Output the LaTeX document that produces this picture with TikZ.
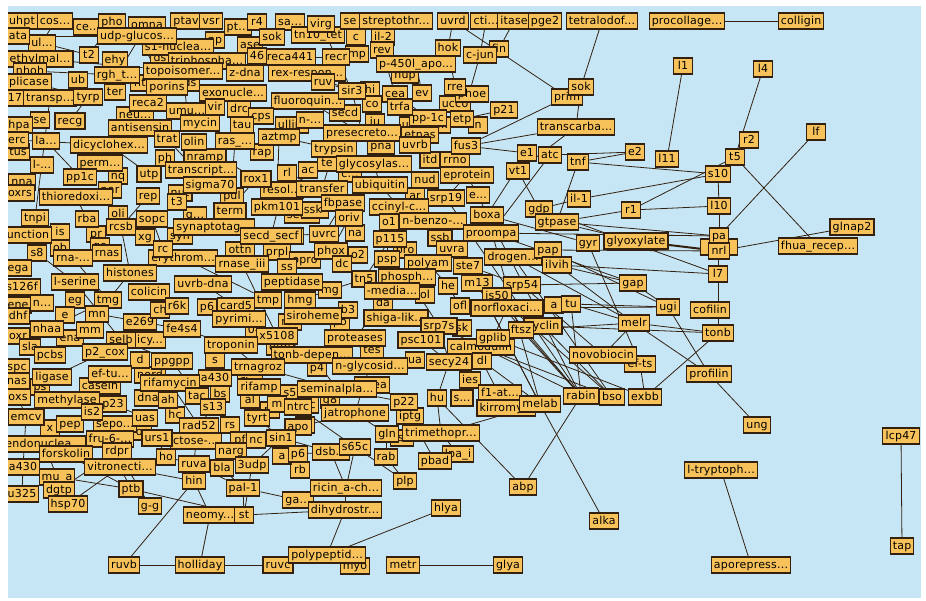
\documentclass[tikz,border=0pt]{standalone}
\usepackage{fontspec}
\newfontfamily\genefont[LetterSpace=2]{DejaVu Sans}
\definecolor{sky}{HTML}{C6E6F6}
\definecolor{gold}{HTML}{F8C25A}
\definecolor{rim}{HTML}{33200F}
\pgfdeclarelayer{backdrop}
\pgfdeclarelayer{links}
\pgfsetlayers{backdrop,links,main}
\begin{document}
\begin{tikzpicture}[x=1pt,y=-1pt,
    gene/.style={draw=rim,fill=gold,line width=1.1pt,font=\genefont\fontsize{11}{12}\selectfont,
      inner xsep=2.6pt,inner ysep=0pt,minimum height=16pt,minimum width=19pt,text height=8.5pt,text depth=2.4pt},
    link/.style={draw=rim,line width=0.8pt}]
  \begin{pgfonlayer}{backdrop}
    \fill[white] (0,0) rectangle (926,600);
    \fill[sky] (8,6) rectangle (921,598);
  \end{pgfonlayer}
  \useasboundingbox (0,0) rectangle (926,600);
  % boxes lying deep under the others
  \node [gene] (hA) at (42,165)  {l-...};
  \node [gene] (hB) at (22,182)  {nna};
  \node [gene] (hC) at (118,176) {nq};
  \node [gene] (hD) at (165,158) {ph};
  \node [gene] (hE) at (110,190) {par};
  \node [gene] (hF) at (60,232)  {is};
  \node [gene] (hG) at (96,234)  {pr};
  \node [gene] (hH) at (100,246) {ge};
  \node [gene] (hI) at (135,115) {neu...};
  \node [gene] (hJ) at (130,133) {ac};
  \node [gene] (hK) at (180,193) {nut};
  \node [gene] (hL) at (232,196) {pul};
  \node [gene] (hM) at (195,215) {g...};
  \node [gene] (hN) at (180,236) {syn};
  \node [gene] (hO) at (60,248)  {ob};
  \node [gene] (hP) at (145,237) {xg};
  \node [gene] (hQ) at (75,300)  {eg};
  \node [gene] (hR) at (65,315)  {e};
  \node [gene] (hS) at (70,338)  {ena};
  \node [gene] (hT) at (140,322) {e269};
  \node [gene] (hU) at (150,340) {icy...};
  \node [gene] (hV) at (255,330) {04};
  \node [gene] (hW) at (215,360) {s};
  \node [gene] (hX) at (150,375) {nord};
  \node [gene] (hY) at (100,386) {casein};
  \node [gene] (hZ) at (40,387)  {ps};
  \node [gene] (gA) at (50,428)  {x};
  \node [gene] (gB) at (140,432) {ros};
  \node [gene] (gC) at (230,425) {rs};
  \node [gene] (gD) at (175,415) {hc};
  \node [gene] (gE) at (270,410) {rn};
  \node [gene] (gF) at (250,400) {al};
  \node [gene] (gG) at (280,347) {ofm};
  \node [gene] (gH) at (250,380) {ri...};
  \node [gene] (gI) at (290,322) {res};
  \node [gene] (gJ) at (160,310) {ch};
  \node [gene] (gK) at (90,330)  {mm};
  \node [gene] (gL) at (292,125) {ullin-};
  \node [gene] (gM) at (282,190) {resol...};
  \node [gene] (gN) at (302,215) {sec...};
  \node [gene] (gO) at (240,250) {ottn};
  \node [gene] (gP) at (292,236) {ncr};
  \node [gene] (gQ) at (310,120) {n-...};
  \node [gene] (gR) at (375,122) {iu};
  \node [gene] (gS) at (425,125) {uaaen...};
  \node [gene] (gT) at (478,125) {n};
  \node [gene] (gU) at (308,170) {ac};
  \node [gene] (gV) at (350,174) {c...};
  \node [gene] (gW) at (455,160) {rrno};
  \node [gene] (gX) at (415,196) {ar};
  \node [gene] (gY) at (405,250) {pro};
  \node [gene] (gZ) at (425,295) {ol};
  \node [gene] (kA) at (330,290) {mg};
  \node [gene] (kB) at (340,322) {po};
  \node [gene] (kC) at (372,385) {rotea};
  \node [gene] (kD) at (402,438) {tso};
  \node [gene] (kE) at (305,425) {ho};
  \node [gene] (kF) at (300,470) {rb};
  \node [gene] (kG) at (462,328) {sk};
  \node [gene] (kH) at (470,380) {ies};
  \node [gene] (kJ) at (250,45)  {ase};
  \node [gene] (kK) at (215,40)  {pp};
  \node [gene] (kL) at (160,58)  {ds};
  \node [gene] (kM) at (78,80)   {ub};
  \node [gene] (kN) at (140,83)  {nt};
  % half hidden boxes of the dense part
  \node [gene] (antis) at (140,128) {antisensin};
  \node [gene] (seA)   at (40,120)  {se};
  \node [gene] (ehy)   at (115,60)  {ehy};
  \node [gene] (sone)  at (178,47)  {s1-nuclea...};
  \node [gene] (dsx)   at (190,83)  {ds};
  \node [gene] (ter)   at (115,92)  {ter};
  \node [gene] (perm)  at (100,163) {perm...};
  \node [gene] (nramp) at (205,157) {nramp};
  \node [gene] (tus)   at (18,152)  {tus};
  \node [gene] (oli)   at (118,214) {oli};
  \node [gene] (prpl)  at (277,252) {prpl};
  \node [gene] (ene)   at (18,305)  {ene};
  \node [gene] (nx)    at (42,303)  {n...};
  \node [gene] (dd)    at (140,360) {d};
  \node [gene] (dna)   at (148,398) {dna};
  \node [gene] (ah)    at (168,400) {ah};
  \node [gene] (bs)    at (220,394) {bs};
  \node [gene] (sfive) at (290,393) {s5};
  \node [gene] (mm)    at (277,404) {m};
  \node [gene] (pep)   at (70,424)  {pep};
  \node [gene] (sepo)  at (115,424) {sepo...};
  \node [gene] (pf)    at (240,440) {pf};
  \node [gene] (nc)    at (256,440) {nc};
  \node [gene] (aa)    at (282,456) {a};
  \node [gene] (ga)    at (298,500) {ga...};
  \node [gene] (cc)    at (356,37)  {c};
  \node [gene] (mp)    at (357,54)  {mp};
  \node [gene] (hup)   at (405,75)  {hup};
  \node [gene] (hi)    at (370,90)  {hi};
  \node [gene] (co)    at (372,104) {co};
  \node [gene] (ucco)  at (455,104) {ucco};
  \node [gene] (secd)  at (345,113) {secd};
  \node [gene] (etnas) at (420,135) {etnas};
  \node [gene] (pna)   at (381,146) {pna};
  \node [gene] (itd)   at (430,160) {itd};
  \node [gene] (te)    at (327,163) {te};
  \node [gene] (nud)   at (425,180) {nud};
  \node [gene] (ssk)   at (315,210) {ssk-};
  \node [gene] (na)    at (355,233) {na};
  \node [gene] (otwo)  at (358,255) {o2};
  \node [gene] (opro)  at (305,260) {opro};
  \node [gene] (ase)   at (310,282) {ase};
  \node [gene] (da)    at (383,303) {da};
  \node [gene] (bthree) at (348,310) {b3};
  \node [gene] (clin)  at (543,326) {cyclin};
  \node [gene] (calm)  at (481,347) {calmodulin};
  \node [gene] (tes)   at (372,350) {tes};
  \node [gene] (ua)    at (415,360) {ua};
  \node [gene] (pfour) at (317,368) {p4};
  \node [gene] (trc)   at (308,405) {trc};
  \node [gene] (geight) at (330,400) {g8};
  \node [gene] (sdots) at (462,398) {s...};
  \node [gene] (gln)   at (387,434) {gln};
  \node [gene] (ex)    at (478,195) {e...};
  % left block
  \node [gene] (cosx)  at (55,21)   {cos...};
  \node [gene] (uhpt)  at (22,21)   {uhpt};
  \node [gene] (cex)   at (88,27)   {ce...};
  \node [gene] (pho)   at (112,22)  {pho};
  \node [gene] (omna)  at (147,25)  {omna};
  \node [gene] (ptav)  at (186,21)  {ptav};
  \node [gene] (vsr)   at (211,21)  {vsr};
  \node [gene] (ptx)   at (238,27)  {pt...};
  \node [gene] (rfour) at (257,22)  {r4};
  \node [gene] (sax)   at (290,22)  {sa...};
  \node [gene] (ulx)   at (42,43)   {ul...};
  \node [gene] (ata)   at (18,36)   {ata};
  \node [gene] (udpg)  at (137,36)  {udp-glucos...};
  \node [gene] (tnten) at (318,35)  {tn10\_tet};
  \node [gene] (sokA)  at (272,37)  {sok};
  \node [gene] (ethyl) at (40,59)   {ethylmal...};
  \node [gene] (ttwo)  at (89,55)   {t2};
  \node [gene] (reca4) at (290,57)  {reca441};
  \node [gene] (n46)   at (257,56)  {46};
  \node [gene] (triph) at (207,61)  {triphospha...};
  \node [gene] (nhoh)  at (30,71)   {nhoh};
  \node [gene] (rgh)   at (117,75)  {rgh\_t...};
  \node [gene] (zdna)  at (245,73)  {z-dna};
  \node [gene] (topo)  at (183,71)  {topoisomer...};
  \node [gene] (rexr)  at (307,73)  {rex-respon...};
  \node [gene] (plic)  at (29,82)   {plicase};
  \node [gene] (porins) at (167,87) {porins};
  \node [gene] (exon)  at (233,93)  {exonucle...};
  \node [gene] (fluor) at (308,101) {fluoroquin...};
  \node [gene] (seventeen) at (15,98) {17};
  \node [gene] (transp) at (50,98)  {transp...};
  \node [gene] (tyrp)  at (88,97)   {tyrp};
  \node [gene] (recatwo) at (148,103) {reca2};
  \node [gene] (umu)   at (187,111) {umu...};
  \node [gene] (drc)   at (239,109) {drc};
  \node [gene] (vir)   at (215,107) {vir};
  \node [gene] (cps)   at (261,116) {cps};
  \node [gene] (hpa)   at (19,125)  {hpa};
  \node [gene] (recg)  at (70,121)  {recg};
  \node [gene] (mycin) at (200,123) {mycin};
  \node [gene] (tau)   at (242,125) {tau};
  \node [gene] (rap)   at (262,152) {rap};
  \node [gene] (aztmp) at (279,137) {aztmp};
  \node [gene] (erc)   at (17,140)  {erc};
  \node [gene] (lax)   at (46,141)  {la...};
  \node [gene] (dicyc) at (109,145) {dicyclohex...};
  \node [gene] (olin)  at (194,142) {olin};
  \node [gene] (trat)  at (167,139) {trat};
  \node [gene] (ras)   at (235,141) {ras\_...};
  \node [gene] (ppone) at (80,177)  {pp1c};
  \node [gene] (utp)   at (149,174) {utp};
  \node [gene] (transcr) at (201,170) {transcript...};
  \node [gene] (rl)    at (287,173) {rl};
  \node [gene] (sigma) at (210,185) {sigma70};
  \node [gene] (rox)   at (256,179) {rox1};
  \node [gene] (oxrs)  at (20,193)  {oxrs};
  \node [gene] (thio)  at (76,197)  {thioredoxi...};
  \node [gene] (tthree) at (177,202) {t3};
  \node [gene] (rep)   at (148,196) {rep};
  \node [gene] (term)  at (230,211) {term};
  \node [gene] (pkm)   at (277,207) {pkm101};
  \node [gene] (tnpi)  at (35,218)  {tnpi};
  \node [gene] (rba)   at (87,219)  {rba};
  \node [gene] (sopc)  at (152,219) {sopc};
  \node [gene] (rcsb)  at (121,227) {rcsb};
  \node [gene] (synap) at (214,227) {synaptotag...};
  \node [gene] (unction) at (28,235) {unction};
  \node [gene] (secdf) at (271,236) {secd\_secf};
  \node [gene] (eryth) at (183,258) {erythrom...};
  \node [gene] (rc)    at (163,249) {rc};
  \node [gene] (seight) at (37,253) {s8};
  \node [gene] (rna)   at (73,258)  {rna-...};
  \node [gene] (rnas)  at (107,253) {rnas};
  \node [gene] (rnase) at (242,264) {rnase\_iii};
  \node [gene] (ss)    at (287,267) {ss};
  \node [gene] (ega)   at (18,268)  {ega};
  \node [gene] (hist)  at (130,273) {histones};
  \node [gene] (pept)  at (292,282) {peptidase};
  \node [gene] (lser)  at (75,282)  {l-serine};
  \node [gene] (sonetwo) at (22,287) {s126f};
  \node [gene] (colic) at (149,292) {colicin};
  \node [gene] (uvrbd) at (203,284) {uvrb-dna};
  \node [gene] (tmg)   at (108,300) {tmg};
  \node [gene] (mn)    at (97,314)  {mn};
  \node [gene] (card)  at (236,306) {card5};
  \node [gene] (rsixk) at (177,306) {r6k};
  \node [gene] (psix)  at (207,307) {p6};
  \node [gene] (hmg)   at (300,300) {hmg};
  \node [gene] (tmp)   at (268,300) {tmp};
  \node [gene] (dhf)   at (18,316)  {dhf};
  \node [gene] (siro)  at (313,316) {siroheme};
  \node [gene] (pyrim) at (239,319) {pyrimi...};
  \node [gene] (fefour) at (182,329) {fe4s4};
  \node [gene] (xfive) at (277,336) {x5108};
  \node [gene] (nhaa)  at (47,329)  {nhaa};
  \node [gene] (oxr)   at (18,336)  {oxr};
  \node [gene] (selb)  at (121,340) {selb};
  \node [gene] (tropo) at (231,345) {troponin};
  \node [gene] (sla)   at (30,347)  {sla};
  \node [gene] (pcbs)  at (50,355)  {pcbs};
  \node [gene] (ptwo)  at (105,352) {p2\_cox};
  \node [gene] (ppgpp) at (172,361) {ppgpp};
  \node [gene] (tonbd) at (312,355) {tonb-depen...};
  \node [gene] (trnag) at (258,367) {trnagroz};
  \node [gene] (spc)   at (17,367)  {spc};
  \node [gene] (nas)   at (17,381)  {nas};
  \node [gene] (ligase) at (52,377) {ligase};
  \node [gene] (eftu)  at (110,374) {ef-tu...};
  \node [gene] (afour) at (215,378) {a430};
  \node [gene] (rifamy) at (170,383) {rifamycin};
  \node [gene] (rifamp) at (259,387) {rifamp};
  \node [gene] (oxs)   at (18,397)  {oxs};
  \node [gene] (methyl) at (67,400) {methylase};
  \node [gene] (ptwothree) at (113,404) {p23};
  \node [gene] (tac)   at (197,396) {tac};
  \node [gene] (sthirteen) at (213,407) {s13};
  \node [gene] (ntrc)  at (298,407) {ntrc};
  \node [gene] (emcv)  at (26,417)  {emcv};
  \node [gene] (istwo) at (92,412)  {is2};
  \node [gene] (uas)   at (145,418) {uas};
  \node [gene] (tyrt)  at (257,418) {tyrt};
  \node [gene] (radfive) at (199,426) {rad52};
  \node [gene] (apo)   at (298,427) {apo};
  \node [gene] (endo)  at (44,444)  {endonuclea...};
  \node [gene] (fru)   at (110,439) {fru-6-...};
  \node [gene] (ctose) at (196,441) {ctose-...};
  \node [gene] (ursone) at (157,438) {urs1};
  \node [gene] (sinone) at (281,438) {sin1};
  \node [gene] (forsk) at (66,454)  {forskolin};
  \node [gene] (rdpr)  at (117,451) {rdpr};
  \node [gene] (ho)    at (166,457) {ho};
  \node [gene] (narg)  at (231,451) {narg};
  \node [gene] (psixb) at (298,454) {p6};
  \node [gene] (afourthree) at (23,467) {a430};
  \node [gene] (vitro) at (120,467) {vitronecti...};
  \node [gene] (ruva)  at (194,464) {ruva};
  \node [gene] (bla)   at (222,468) {bla};
  \node [gene] (udpthree) at (252,465) {3udp};
  \node [gene] (mua)   at (57,477)  {mu\_a};
  \node [gene] (hin)   at (194,481) {hin};
  \node [gene] (uthree) at (22,494) {u325};
  \node [gene] (dgtp)  at (59,490)  {dgtp};
  \node [gene] (ptb)   at (131,489) {ptb};
  \node [gene] (palone) at (243,488) {pal-1};
  \node [gene] (hsp)   at (68,504)  {hsp70};
  \node [gene] (gg)    at (150,506) {g-g};
  \node [gene] (neomy) at (210,515) {neomy...};
  \node [gene] (st)    at (244,515) {st};
  \node [gene] (ruvb)  at (124,565) {ruvb};
  \node [gene] (holliday) at (200,565) {holliday};
  \node [gene] (ruvc)  at (278,565) {ruvc};
  % middle block
  \node [gene] (seB)   at (350,21)  {se};
  \node [gene] (virg)  at (321,24)  {virg};
  \node [gene] (strep) at (396,21)  {streptothr...};
  \node [gene] (uvrd)  at (453,21)  {uvrd};
  \node [gene] (cti)   at (486,21)  {cti...};
  \node [gene] (itase) at (514,21)  {itase};
  \node [gene] (pgetwo) at (545,21) {pge2};
  \node [gene] (tetra) at (602,21)  {tetralodof...};
  \node [gene] (iltwo) at (383,37)  {il-2};
  \node [gene] (recr)  at (336,57)  {recr};
  \node [gene] (rev)   at (382,50)  {rev};
  \node [gene] (fin)   at (499,49)  {fin};
  \node [gene] (cjun)  at (480,55)  {c-jun};
  \node [gene] (hok)   at (448,48)  {hok};
  \node [gene] (pfour50) at (416,64) {p-450l\_apo...};
  \node [gene] (ruv)   at (323,82)  {ruv};
  \node [gene] (sirthree) at (352,91) {sir3};
  \node [gene] (cea)   at (395,94)  {cea};
  \node [gene] (phoe)  at (472,94)  {phoe};
  \node [gene] (ev)    at (422,93)  {ev};
  \node [gene] (rre)   at (455,87)  {rre};
  \node [gene] (prim)  at (567,97)  {prim};
  \node [gene] (sokB)  at (581,87)  {sok};
  \node [gene] (ppc)   at (428,118) {pp-1c};
  \node [gene] (trfa)  at (400,107) {trfa};
  \node [gene] (etp)   at (462,119) {etp};
  \node [gene] (ptwoone) at (504,110) {p21};
  \node [gene] (presec) at (362,133) {presecreto...};
  \node [gene] (transc) at (576,127) {transcarba...};
  \node [gene] (tryp)  at (334,149) {trypsin};
  \node [gene] (uvrb)  at (415,145) {uvrb};
  \node [gene] (fusthree) at (466,146) {fus3};
  \node [gene] (atc)   at (550,155) {atc};
  \node [gene] (eone)  at (527,153) {e1};
  \node [gene] (tnf)   at (578,162) {tnf};
  \node [gene] (glyco) at (374,164) {glycosylas...};
  \node [gene] (eprot) at (467,175) {eprotein};
  \node [gene] (vtone) at (518,171) {vt1};
  \node [gene] (transf) at (322,189) {transfer};
  \node [gene] (ubiq)  at (380,185) {ubiquitin};
  \node [gene] (ilone) at (579,199) {il-1};
  \node [gene] (srpnt) at (446,198) {srp19};
  \node [gene] (fbp)   at (343,203) {fbpase};
  \node [gene] (ccin)  at (399,207) {ccinyl-c...};
  \node [gene] (gdp)   at (539,209) {gdp};
  \node [gene] (oriv)  at (349,218) {oriv};
  \node [gene] (nbenz) at (433,221) {n-benzo-...};
  \node [gene] (oone)  at (389,222) {o1};
  \node [gene] (boxa)  at (487,215) {boxa};
  \node [gene] (gtpase) at (557,222) {gtpase};
  \node [gene] (uvrc)  at (324,234) {uvrc};
  \node [gene] (pone15) at (390,239) {p115};
  \node [gene] (ssb)   at (440,238) {ssb};
  \node [gene] (proompa) at (491,233) {proompa};
  \node [gene] (gyr)   at (588,243) {gyr};
  \node [gene] (phox)  at (331,251) {phox};
  \node [gene] (psp)   at (387,259) {psp};
  \node [gene] (drogen) at (513,257) {drogen...};
  \node [gene] (uvra)  at (452,249) {uvra};
  \node [gene] (pap)   at (548,250) {pap};
  \node [gene] (ilvih) at (557,265) {ilvih};
  \node [gene] (dc)    at (342,264) {dc};
  \node [gene] (polyam) at (428,263) {polyam};
  \node [gene] (steseven) at (468,266) {ste7};
  \node [gene] (phosph) at (407,277) {phosph...};
  \node [gene] (tnfive) at (364,279) {tn5};
  \node [gene] (media) at (392,291) {-media...};
  \node [gene] (he)    at (448,286) {he};
  \node [gene] (mthirteen) at (477,283) {m13};
  \node [gene] (srpfour) at (522,285) {srp54};
  \node [gene] (isfifty) at (497,296) {is50};
  \node [gene] (ofl)   at (460,306) {ofl};
  \node [gene] (norflox) at (507,308) {norfloxaci...};
  \node [gene] (ax)    at (554,305) {a};
  \node [gene] (tu)    at (571,304) {tu};
  \node [gene] (shiga) at (396,318) {shiga-lik...};
  \node [gene] (srpseven) at (439,326) {srp7s};
  \node [gene] (ftsz)  at (521,330) {ftsz};
  \node [gene] (gplib) at (493,338) {gplib};
  \node [gene] (proteases) at (355,338) {proteases};
  \node [gene] (psc)   at (421,340) {psc101};
  \node [gene] (nglyc) at (370,366) {n-glycosid...};
  \node [gene] (secy)  at (449,362) {secy24};
  \node [gene] (dl)    at (482,361) {dl};
  \node [gene] (semin) at (337,389) {seminalpla...};
  \node [gene] (jatro) at (355,413) {jatrophone};
  \node [gene] (iptg)  at (410,416) {iptg};
  \node [gene] (ptt)   at (404,402) {p22};
  \node [gene] (hu)    at (437,398) {hu};
  \node [gene] (fone)  at (500,393) {f1-at...};
  \node [gene] (kirro) at (506,408) {kirromy...};
  \node [gene] (melab) at (540,404) {melab};
  \node [gene] (rabin) at (581,396) {rabin};
  \node [gene] (bso)   at (612,397) {bso};
  \node [gene] (exbb)  at (645,397) {exbb};
  \node [gene] (trimeth) at (441,433) {trimethopr...};
  \node [gene] (dsb)   at (331,452) {dsb...};
  \node [gene] (ssixfive) at (355,447) {s65c};
  \node [gene] (rab)   at (386,457) {rab};
  \node [gene] (lpa)   at (458,454) {lpa\_i};
  \node [gene] (pbad)  at (435,461) {pbad};
  \node [gene] (plp)   at (405,481) {plp};
  \node [gene] (abp)   at (523,487) {abp};
  \node [gene] (ricin) at (346,488) {ricin\_a-ch...};
  \node [gene] (dihyd) at (345,510) {dihydrostr...};
  \node [gene] (hlya)  at (446,508) {hlya};
  \node [gene] (alka)  at (604,521) {alka};
  \node [gene] (myo)   at (355,566) {myo};
  \node [gene] (polyp) at (327,555) {polypeptid...};
  \node [gene] (metr)  at (403,565) {metr};
  \node [gene] (glya)  at (508,565) {glya};
  % outer part
  \node [gene] (procoll) at (687,21) {procollage...};
  \node [gene] (colligin) at (801,21) {colligin};
  \node [gene] (lone)  at (683,66)  {l1};
  \node [gene] (lfour) at (763,69)  {l4};
  \node [gene] (lf)    at (816,132) {lf};
  \node [gene] (rtwo)  at (749,140) {r2};
  \node [gene] (etwo)  at (635,152) {e2};
  \node [gene] (leleven) at (667,159) {l11};
  \node [gene] (sten)  at (718,174) {s10};
  \node [gene] (tfive) at (735,157) {t5};
  \node [gene] (rone)  at (631,210) {r1};
  \node [gene] (lten)  at (719,206) {l10};
  \node [gene] (glnap) at (852,227) {glnap2};
  \node [gene] (fhua)  at (818,246) {fhua\_recep...};
  \node [gene] (glyox) at (636,241) {glyoxylate};
  \node [gene, minimum width=37pt] (nrlb) at (719,247) {};
  \node [gene] (pa)    at (719,236) {pa};
  \node [gene] (nrl)   at (719,251) {nrl};
  \node [gene] (lseven) at (718,274) {l7};
  \node [gene] (gap)   at (633,283) {gap};
  \node [gene] (ugi)   at (668,307) {ugi};
  \node [gene] (cofilin) at (710,310) {cofilin};
  \node [gene] (melr)  at (634,323) {melr};
  \node [gene] (tonb)  at (718,333) {tonb};
  \node [gene] (efts)  at (640,364) {ef-ts};
  \node [gene] (novob) at (603,355) {novobiocin};
  \node [gene] (profilin) at (709,374) {profilin};
  \node [gene] (ung)   at (757,425) {ung};
  \node [gene] (ltrypt) at (721,470) {l-tryptoph...};
  \node [gene] (apore) at (751,565) {aporepress...};
  \node [gene] (lcp)   at (901,436) {lcp47};
  \node [gene] (tap)   at (902,546) {tap};
  % the left margin cuts the outermost boxes
  \fill [white] (0,0) rectangle (8,600);
  \begin{pgfonlayer}{links}
    % outer links
    \path [link]
    (procoll) edge (colligin)
    (tetra) edge (sokB)
    (sokB) edge (transc)
    (uvrd) edge (prim)
    (cjun) edge (etp)
    (prim) edge (fusthree)
    (ptwoone) edge (etp)
    (transc) edge (fusthree) edge (vtone)
    (fusthree) edge (eone)
    (etwo) edge (atc) edge (tnf)
    (lone) edge (leleven)
    (lfour) edge (tfive)
    (tfive) edge (rone) edge (fhua)
    (lf) edge (pa)
    (sten) edge (tnf) edge (ilone) edge (lten)
    (rone) edge (lten) edge (gtpase)
    (lten) edge (pa) edge (nrl)
    (pa) edge (gtpase) edge (proompa)
    (nrl) edge (pap) edge (glnap) edge (lseven)
    (lseven) edge (ilvih) edge (tonb)
    (gap) edge (ilvih) edge (srpfour) edge (ugi)
    (ugi) edge (tu) edge (norflox) edge (profilin)
    (melr) edge (tu) edge (ftsz) edge (tonb) edge (profilin) edge (novob)
    (tonb) edge (clin) edge (exbb)
    (efts) edge (exbb)
    (profilin) edge (ung)
    (ltrypt) edge (apore)
    (lcp) edge (tap)
    (rabin) edge (abp)
    (melab) edge (alka)
    (hu) edge (abp)
    (hlya) edge (polyp)
    (metr) edge (glya)
    (dihyd) edge (polyp)
    (ruvb) edge (holliday) edge (hin)
    (holliday) edge (ruvc) edge (neomy)
    (hin) edge (neomy)
    (ptb) edge (st)
    (palone) edge (st)
    (st) edge (dihyd)
    (vitro) edge (hin);
    \path [link, line width=2pt] (glyox) edge (nrl);
    % links fanning out of the block
    \path [link]
    (gtpase) edge (glyox)
    (boxa) edge (gyr)
    (proompa) edge (gap)
    (drogen) edge (melr)
    (pap) edge (ugi)
    (ilvih) edge (melr)
    (srpfour) edge (novob)
    (tu) edge (rabin)
    (ftsz) edge (rabin)
    (isfifty) edge (bso)
    (mthirteen) edge (melab)
    (gplib) edge (exbb)
    (clin) edge (bso)
    (norflox) edge (rabin)
    (secy) edge (kirro)
    (dl) edge (melab)
    (trimeth) edge (melab)
    (srpseven) edge (rabin)
    (calm) edge (bso)
    (ilone) edge (gdp)
    (vtone) edge (gdp)
    (tnf) edge (gtpase)
    (eone) edge (boxa)
    (atc) edge (proompa)
    (eprot) edge (rabin)
    (boxa) edge (melab)
    (srpnt) edge (rabin)
    (drogen) edge (bso)
    (steseven) edge (melab)
    (uvra) edge (rabin)
    (gdp) edge (lseven)
    (gyr) edge (efts);
    % links inside the block
    \path [link]
    (ata) edge (udpg) (ulx) edge (ttwo) (nhoh) edge (rgh) (ethyl) edge (topo)
    (plic) edge (tyrp) (uhpt) edge (ethyl) (cosx) edge (ulx) (pho) edge (ttwo)
    (omna) edge (rgh) (udpg) edge (porins) (triph) edge (recatwo) (topo) edge (umu)
    (porins) edge (dicyc) (tyrp) edge (recg) (hpa) edge (lax) (erc) edge (dicyc)
    (transp) edge (tnpi) (lax) edge (ppone) (dicyc) edge (utp) (trat) edge (sigma)
    (olin) edge (rox) (ras) edge (term) (aztmp) edge (pkm) (rl) edge (secdf)
    (rox) edge (synap) (thio) edge (rba) (rep) edge (rcsb) (sopc) edge (rc)
    (tnpi) edge (seight) (rba) edge (rnas) (rcsb) edge (hist) (seight) edge (lser)
    (rna) edge (tmg) (hist) edge (mn) (lser) edge (selb) (nhaa) edge (tmg)
    (mn) edge (fefour) (pcbs) edge (tmg) (colic) edge (rsixk) (uvrbd) edge (card)
    (eryth) edge (tmp) (rnase) edge (xfive) (ss) edge (siro) (pept) edge (hmg)
    (selb) edge (ppgpp) (ptwo) edge (ligase) (eftu) edge (methyl) (ppgpp) edge (tac)
    (rifamy) edge (radfive) (fefour) edge (tropo) (xfive) edge (tonbd) (tropo) edge (trnag)
    (oxs) edge (emcv) (methyl) edge (istwo) (ptwothree) edge (uas) (istwo) edge (fru)
    (uas) edge (ursone) (tac) edge (sthirteen) (sthirteen) edge (radfive) (tyrt) edge (sinone)
    (radfive) edge (narg) (endo) edge (forsk) (fru) edge (rdpr) (ursone) edge (ho)
    (ctose) edge (ruva) (narg) edge (bla) (sinone) edge (udpthree) (forsk) edge (afourthree)
    (rdpr) edge (vitro) (ho) edge (ruva) (vitro) edge (ptb) (mua) edge (dgtp)
    (dgtp) edge (hsp) (forsk) edge (ptb) (rdpr) edge (gg) (afourthree) edge (uthree)
    (ruva) edge (palone) (bla) edge (palone) (hsp) edge (vitro) (mua) edge (ptb)
    (endo) edge (mua) (emcv) edge (afourthree) (dgtp) edge (rdpr)
    (virg) edge (recr) (strep) edge (rev) (uvrd) edge (hok) (cti) edge (cjun)
    (itase) edge (fin) (recr) edge (sirthree) (rev) edge (cea) (hok) edge (rre)
    (pfour50) edge (ev) (ruv) edge (trfa) (sirthree) edge (presec) (cea) edge (ppc)
    (trfa) edge (uvrb) (presec) edge (tryp) (tryp) edge (transf) (glyco) edge (ubiq)
    (uvrb) edge (eprot) (eprot) edge (srpnt) (ubiq) edge (ccin) (transf) edge (fbp)
    (fbp) edge (uvrc) (oriv) edge (phox) (ccin) edge (pone15) (oone) edge (psp)
    (nbenz) edge (ssb) (boxa) edge (proompa) (ssb) edge (uvra) (pone15) edge (tnfive)
    (psp) edge (media) (uvra) edge (mthirteen) (polyam) edge (he) (steseven) edge (srpfour)
    (phosph) edge (srpseven) (tnfive) edge (shiga) (media) edge (proteases) (he) edge (ofl)
    (mthirteen) edge (isfifty) (isfifty) edge (norflox) (norflox) edge (gplib)
    (srpseven) edge (secy) (psc) edge (secy) (proteases) edge (nglyc) (tonbd) edge (semin)
    (nglyc) edge (jatro) (secy) edge (hu) (dl) edge (kirro) (semin) edge (ptt)
    (jatro) edge (gln) (ptt) edge (iptg) (hu) edge (trimeth) (iptg) edge (pbad)
    (gln) edge (rab) (ssixfive) edge (ricin) (dsb) edge (ricin) (rab) edge (plp)
    (trimeth) edge (lpa) (ricin) edge (dihyd) (ssixfive) edge (plp)
    (rl) edge (transf) (pkm) edge (fbp) (secdf) edge (uvrc) (ss) edge (phox)
    (hmg) edge (tnfive) (siro) edge (proteases) (trnag) edge (semin) (apo) edge (jatro)
    (ntrc) edge (ssixfive) (psixb) edge (dsb) (ga) edge (ricin) (sinone) edge (dsb)
    (fluor) edge (presec) (rexr) edge (sirthree) (aztmp) edge (tryp) (reca4) edge (recr)
    (udpthree) edge (st) (palone) edge (ga);
  \end{pgfonlayer}
\end{tikzpicture}
\end{document}
